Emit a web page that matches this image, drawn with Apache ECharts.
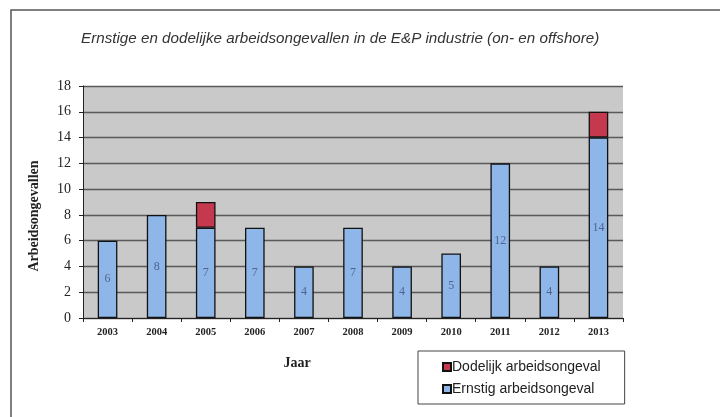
<!DOCTYPE html>
<html><head><meta charset="utf-8">
<script src="https://cdn.jsdelivr.net/npm/echarts@6/dist/echarts.min.js"></script>
<style>html,body{margin:0;padding:0;background:#fff}#c{width:720px;height:417px}</style>
</head><body><div id="c"></div>
<script>
var years = ['2003','2004','2005','2006','2007','2008','2009','2010','2011','2012','2013'];
var ernstig = [6, 8, 7, 7, 4, 7, 4, 5, 12, 4, 14];
var dodelijk = [0, 0, 2, 0, 0, 0, 0, 0, 0, 0, 2];
var yTicks = [0, 2, 4, 6, 8, 10, 12, 14, 16, 18];

var chart = echarts.init(document.getElementById('c'));
var serif = '"Liberation Serif", "DejaVu Serif", serif';
chart.setOption({
  animation: false,
  backgroundColor: '#ffffff',
  graphic: [
    {type: 'rect', shape: {x: 11, y: 10, width: 730, height: 430}, style: {fill: 'none', stroke: '#555', lineWidth: 1.5}, z: -1}
  ],
  title: {
    text: 'Ernstige en dodelijke arbeidsongevallen in de E&P industrie (on- en offshore)',
    left: 76, top: 26,
    textStyle: {fontFamily: '"Liberation Sans", Arial, sans-serif', fontStyle: 'italic', fontWeight: 'normal', fontSize: 15.2, color: '#333'}
  },
  legend: {
    orient: 'vertical',
    left: 418, top: 351,
    data: ['Dodelijk arbeidsongeval', 'Ernstig arbeidsongeval'],
    itemWidth: 8, itemHeight: 8, itemGap: 8,
    padding: [9, 24, 8, 24],
    borderColor: '#444', borderWidth: 1,
    textStyle: {fontFamily: '"Liberation Sans", Arial, sans-serif', fontSize: 14, color: '#222', padding: [0, 0, 0, -4]},
    icon: 'rect'
  },
  grid: {left: 83, right: 97, top: 86, bottom: 99, backgroundColor: '#c9c9c9', show: true, borderWidth: 0},
  xAxis: {
    type: 'category', data: years,
    name: 'Jaar', nameLocation: 'middle', nameGap: 38,
    nameTextStyle: {fontFamily: serif, fontWeight: 'bold', fontSize: 14, color: '#222', padding: [0, 0, 0, -112]},
    axisLine: {lineStyle: {color: '#222', width: 1}},
    axisTick: {show: true, length: 4, lineStyle: {color: '#222'}},
    axisLabel: {fontFamily: serif, fontWeight: 'bold', fontSize: 10.5, color: '#222', margin: 9}
  },
  yAxis: {
    type: 'value', min: 0, max: 18, interval: 2,
    name: 'Arbeidsongevallen', nameLocation: 'middle', nameGap: 42, nameRotate: 90,
    nameTextStyle: {fontFamily: serif, fontWeight: 'bold', fontSize: 14, color: '#222', padding: [0, 28, 0, 0]},
    axisLine: {show: true, lineStyle: {color: '#222', width: 1}},
    axisTick: {show: true, length: 4, lineStyle: {color: '#222'}},
    axisLabel: {fontFamily: serif, fontSize: 14, color: '#222', margin: 12,
      formatter: function(v){ return yTicks.indexOf(v) >= 0 ? String(v) : ''; }},
    splitLine: {show: true, lineStyle: {color: '#5a5a5a', width: 1.3}}
  },
  series: [
    {
      name: 'Ernstig arbeidsongeval', type: 'bar', stack: 'a', data: ernstig,
      barWidth: '40%',
      itemStyle: {color: '#8fb6e8', borderColor: '#111', borderWidth: 1.3},
      label: {show: true, position: 'inside', fontFamily: serif, fontSize: 12, color: '#4f6590'}
    },
    {
      name: 'Dodelijk arbeidsongeval', type: 'bar', stack: 'a',
      data: dodelijk.map(function(v){ return v === 0 ? null : v; }),
      barWidth: '40%',
      itemStyle: {color: '#c5394f', borderColor: '#111', borderWidth: 1.3}
    }
  ]
});
</script></body></html>
